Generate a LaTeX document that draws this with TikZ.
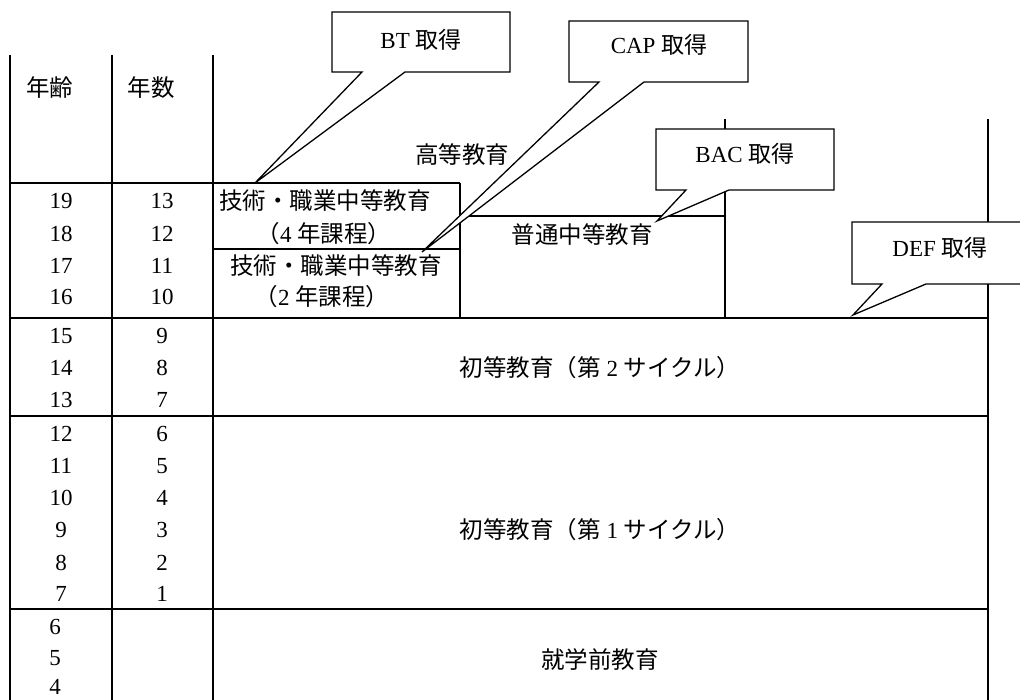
\documentclass[tikz,border=0pt]{standalone}
\usepackage{fontspec}
\setmainfont{Liberation Serif}
\newfontfamily\jpf{Noto Sans CJK JP}
\begin{document}
\begin{tikzpicture}[x=1pt,y=-1pt,
  gridline/.style={line width=1.9pt},
  thinline/.style={line width=1.3pt},
  callout/.style={draw,fill=white,line width=1.3pt,line join=miter},
  lbl/.style={font=\fontsize{23}{27}\selectfont, inner sep=0pt},
  jlbl/.style={font=\fontsize{23.5}{27}\selectfont\jpf, inner sep=0pt}]
\useasboundingbox (0,0) rectangle (1020,700);

% grid
\draw[gridline] (10,55) -- (10,700);
\draw[gridline] (112,55) -- (112,700);
\draw[gridline] (213,55) -- (213,700);
\draw[gridline] (988,119) -- (988,700);
\draw[gridline] (725,119) -- (725,318);
\draw[gridline] (10,183) -- (460,183);
\draw[gridline] (10,318) -- (988,318);
\draw[gridline] (10,416) -- (988,416);
\draw[gridline] (10,609) -- (988,609);
\draw[thinline] (460,183) -- (460,318);
\draw[thinline] (213,249) -- (460,249);
\draw[thinline] (460,216) -- (725,216);

% headers
\node[jlbl] (hage) at (50,88) {年齢};
\node[jlbl] (hyear) at (151,88) {年数};
\node[jlbl] (higher) at (462,155) {高等教育};

% ages and years
\foreach \a/\yr/\y in {19/13/201,18/12/234,17/11/266,16/10/297,15/9/336,14/8/368,13/7/400,12/6/434,11/5/466,10/4/498,9/3/530,8/2/563,7/1/594}{
  \node[lbl] (age\a) at (61,\y) {\a};
  \node[lbl] (yr\yr) at (162,\y) {\yr};
}
\node[lbl] (age6) at (55,627) {6};
\node[lbl] (age5) at (55,658) {5};
\node[lbl] (age4) at (55,687) {4};

% blocks
\node[jlbl] (tech4a) at (325,201) {技術・職業中等教育};
\node[lbl] (tech4b) at (324,234) {{\jpf\fontsize{23.5}{27}\selectfont （}4 {\jpf\fontsize{23.5}{27}\selectfont 年課程）}};
\node[jlbl] (tech2a) at (336,266) {技術・職業中等教育};
\node[lbl] (tech2b) at (322,297) {{\jpf\fontsize{23.5}{27}\selectfont （}2 {\jpf\fontsize{23.5}{27}\selectfont 年課程）}};
\node[jlbl] (gen) at (582,235) {普通中等教育};
\node[lbl] (prim2) at (600,368) {{\jpf\fontsize{23.5}{27}\selectfont 初等教育（第} 2 {\jpf\fontsize{23.5}{27}\selectfont サイクル）}};
\node[lbl] (prim1) at (600,530) {{\jpf\fontsize{23.5}{27}\selectfont 初等教育（第} 1 {\jpf\fontsize{23.5}{27}\selectfont サイクル）}};
\node[jlbl] (pre) at (600,660) {就学前教育};

% callouts
\draw[callout] (332,12) -- (510,12) -- (510,72) -- (405,72) -- (255,183) -- (362,72) -- (332,72) -- cycle;
\node[lbl] (bt) at (421,40) {BT {\jpf 取得}};
\draw[callout] (569,21) -- (748,21) -- (748,82) -- (644,82) -- (422,252) -- (599,82) -- (569,82) -- cycle;
\node[lbl] (cap) at (659,45) {CAP {\jpf 取得}};
\draw[callout] (656,129) -- (834,129) -- (834,190) -- (729,190) -- (657,221) -- (686,190) -- (656,190) -- cycle;
\node[lbl] (bac) at (745,154) {BAC {\jpf 取得}};
\draw[callout] (852,222) -- (1030,222) -- (1030,284) -- (926,284) -- (853,315) -- (882,284) -- (852,284) -- cycle;
\node[lbl] (def) at (940,248) {DEF {\jpf 取得}};
\end{tikzpicture}
\end{document}
